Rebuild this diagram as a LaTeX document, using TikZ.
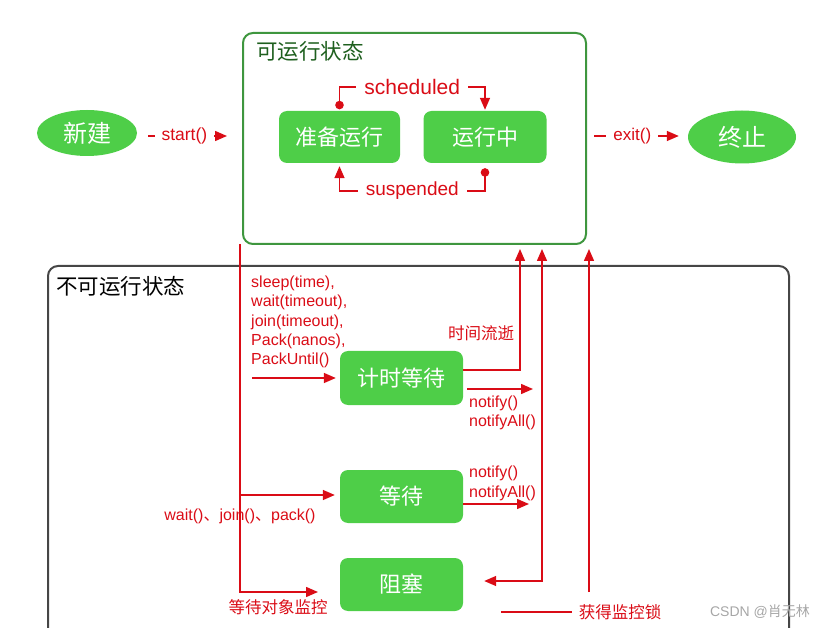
\documentclass[tikz,border=0pt]{standalone}
\usepackage{fontspec}
\setmainfont{Liberation Sans}
\newfontfamily\cjk{Noto Sans CJK SC}
\usetikzlibrary{arrows.meta,shapes.geometric}
\definecolor{gfill}{RGB}{78,206,72}
\definecolor{rgreen}{RGB}{62,150,62}
\definecolor{tgreen}{RGB}{30,95,30}
\definecolor{bgray}{RGB}{70,70,70}
\definecolor{lred}{RGB}{218,12,22}
\tikzset{
  statebox/.style={rounded corners=8pt, fill=gfill, text=white, minimum width=122pt,
    minimum height=53pt, inner sep=0pt, font=\cjk\fontsize{22}{22}\selectfont},
  ovalbox/.style={ellipse, fill=gfill, text=white, inner sep=0pt,
    font=\cjk\fontsize{24}{24}\selectfont},
  rline/.style={draw=lred, line width=1.5pt},
  tip/.tip={Triangle[length=12pt,width=10pt]},
  dot/.tip={Circle[length=8.5pt,width=8.5pt]},
  conn/.style={rline, -tip},
  lbl/.style={text=lred, inner sep=0pt, font=\fontsize{16}{19.2}\selectfont},
  cjklbl/.style={text=lred, inner sep=0pt, font=\cjk\fontsize{16.5}{16.5}\selectfont},
  gap/.style={fill=white, inner xsep=8pt, inner ysep=2pt}
}
\begin{document}
\begin{tikzpicture}[x=1pt,y=-1pt]
\useasboundingbox (0,0) rectangle (825,628);
\clip (0,0) rectangle (825,628);

% containers
\node[draw=rgreen, line width=2pt, rounded corners=10pt, minimum width=343pt,
  minimum height=211pt, inner sep=0pt] (runnable) at (414.5,138.5) {};
\node[anchor=west, text=tgreen, inner sep=0pt, font=\cjk\fontsize{21.5}{21.5}\selectfont]
  (runtitle) at (256,51) {可运行状态};
\node[draw=bgray, line width=2pt, rounded corners=10pt, minimum width=741pt,
  minimum height=394pt, inner sep=0pt] (nonrun) at (418.5,463) {};
\node[anchor=west, text=black, inner sep=0pt, font=\cjk\fontsize{21.5}{21.5}\selectfont]
  (nonruntitle) at (56,286) {不可运行状态};

% states
\node[ovalbox, minimum width=100pt, minimum height=46pt] (new) at (87,133) {新建};
\node[ovalbox, minimum width=108pt, minimum height=53pt] (term) at (742,137) {终止};
\node[statebox, minimum width=121pt, minimum height=52pt] (ready) at (339.5,137) {准备运行};
\node[statebox, minimum width=123pt, minimum height=52pt] (running) at (485,137) {运行中};
\node[statebox, minimum width=123pt, minimum height=54pt] (timed) at (401.5,378) {计时等待};
\node[statebox, minimum width=123pt, minimum height=53pt] (waiting) at (401.5,496.5) {等待};
\node[statebox, minimum width=123pt, minimum height=53pt] (blocked) at (401.5,584.5) {阻塞};

% start / exit
\draw[conn, shorten <=11pt, shorten >=15pt] (new.east |- 0,136) -- (runnable.west |- 0,136)
  node[pos=0.45, lbl, gap, inner xsep=7pt, font=\fontsize{17.5}{17.5}\selectfont] (startlbl) {start()};
\draw[conn, shorten <=7pt, shorten >=9pt] (runnable.east |- 0,136) -- (term.west |- 0,136)
  node[pos=0.45, lbl, gap, inner xsep=7pt, font=\fontsize{17}{17}\selectfont] (exitlbl) {exit()};

% scheduled / suspended
\draw[rline, dot-tip, shorten <=1.5pt, shorten >=1pt] (ready.north) -- (ready.north |- 0,87)
  -- node[lbl, gap, font=\fontsize{21}{21}\selectfont] (schedlbl) {scheduled}
  (running.north |- 0,87) -- (running.north);
\draw[rline, dot-tip, shorten <=5pt, shorten >=3pt] (running.south) -- (running.south |- 0,191)
  -- node[lbl, gap, font=\fontsize{19}{19}\selectfont] (susplbl) {suspended}
  (ready.south |- 0,191) -- (ready.south);

% trunk from runnable to non-runnable states
\coordinate (trunktop) at (240,244);
\coordinate (blockin) at (318,592);
\draw[conn] (trunktop) |- (blockin);
\draw[conn, shorten >=5pt] (trunktop |- 0,495) -- (waiting.west |- 0,495);
\node[lbl] (wjp) at (240,516) {wait(){\cjk 、}join(){\cjk 、}pack()};
\node[cjklbl] (waitmon) at (278,607) {等待对象监控};

% timed waiting
\node[lbl, align=left, anchor=north west] (timedcalls) at (251,276)
  {sleep(time),\\wait(timeout),\\join(timeout),\\Pack(nanos),\\PackUntil()};
\coordinate (timedsrc) at (252,378);
\draw[conn, shorten >=4pt] (timedsrc) -- (timed.west);
\coordinate (up1) at (520,244);
\draw[conn, shorten >=5pt] (timed.east |- 0,370) -| (up1);
\node[cjklbl] (elapsed) at (481,333) {时间流逝};
\coordinate (n1a) at (467,389);
\coordinate (n1b) at (533,389);
\draw[conn] (n1a) -- (n1b);
\node[lbl, align=left, anchor=north west] (n1lbl) at (469,396) {notify()\\notifyAll()};

% waiting
\coordinate (n2b) at (529,504);
\draw[conn] (waiting.east |- n2b) -- (n2b);
\node[lbl, align=left, anchor=north west, font=\fontsize{16}{20}\selectfont] (n2lbl) at (469,466) {notify()\\notifyAll()};

% back to runnable / blocked
\coordinate (up2) at (542,244);
\draw[rline, tip-tip, shorten <=21pt, shorten >=5pt] (blocked.east |- 0,581) -| (up2);
\coordinate (lockbot) at (589,592);
\coordinate (up3) at (589,244);
\draw[conn, shorten >=5pt] (lockbot) -- (up3);
\coordinate (lockl) at (501,612);
\coordinate (lockr) at (572,612);
\draw[rline] (lockl) -- (lockr);
\node[cjklbl] (locklbl) at (620,612) {获得监控锁};

% watermark
\node[text=gray!70, inner sep=0pt, font=\fontsize{14}{14}\selectfont] (wm) at (760,612) {CSDN @{\cjk 肖无林}};
\end{tikzpicture}
\end{document}
